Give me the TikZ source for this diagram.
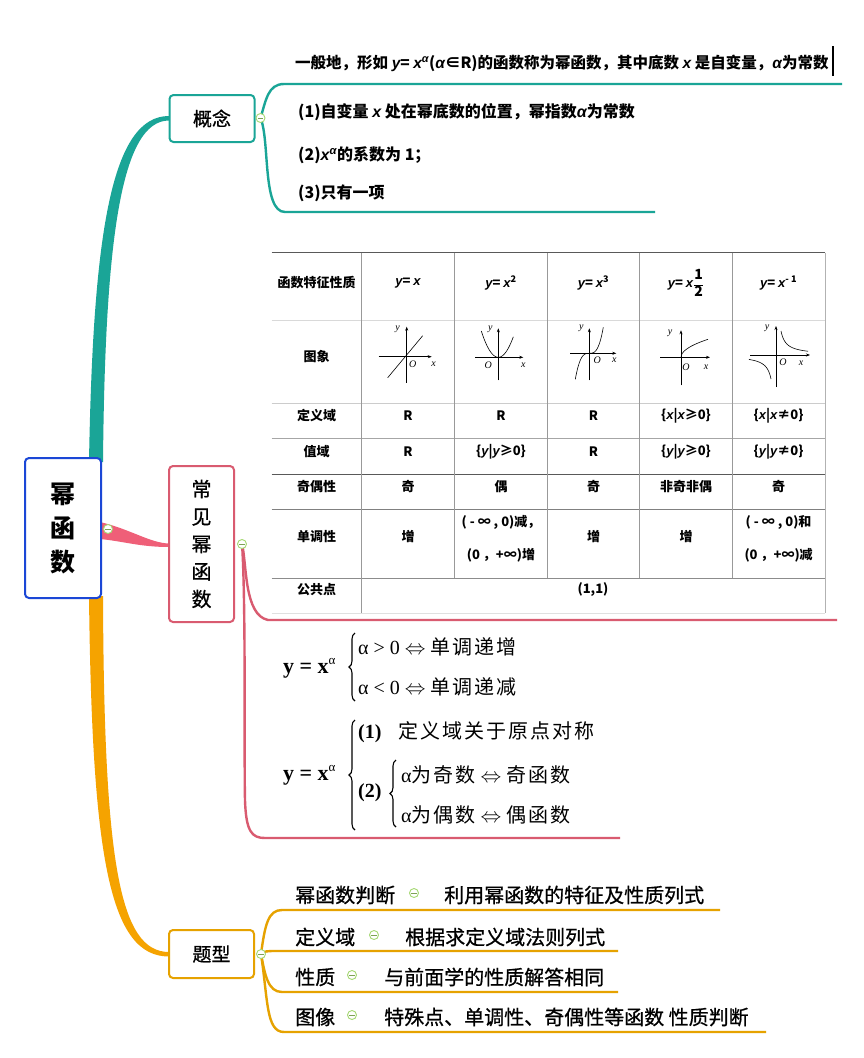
\documentclass[tikz,border=0pt]{standalone}
\usepackage{fontspec}
\setmainfont{Noto Sans CJK SC}
\newfontfamily\lsans{Liberation Sans}
\newfontfamily\tms{Liberation Serif}
\newfontfamily\cjkw{Noto Sans CJK SC}[LetterSpace=10]
\newfontfamily\cjkm{Noto Sans CJK SC}[FakeBold=0.8]
\usetikzlibrary{arrows.meta,decorations.pathreplacing}
\definecolor{teal1}{HTML}{1AA597}
\definecolor{pink1}{HTML}{D95B70}
\definecolor{pinkf}{HTML}{EF5F78}
\definecolor{orn}{HTML}{E6A200}
\definecolor{ornf}{HTML}{F5A300}
\definecolor{blu}{HTML}{1B47D6}
\definecolor{cgreen}{HTML}{A5D872}
\newcommand\ivb[1]{{\lsans\bfseries\itshape #1}}
\newcommand\fs[1]{\fontsize{#1}{#1}\selectfont}
\newcommand\fml{\tms\fs{20}}
\newcommand\cw{\cjkw\fs{20}}
\pgfdeclarelayer{back}
\pgfdeclarelayer{bg}
\pgfsetlayers{back,bg,main}
\tikzset{
  topic/.style={draw, line width=2pt, rounded corners=4pt, fill=white, inner sep=0pt, text=black},
  col/.style={circle, draw=cgreen, fill=white, line width=0.9pt, minimum size=9pt, inner sep=0pt,
    path picture={\draw[cgreen!75!black, line width=1pt] ([xshift=-2.6pt]path picture bounding box.center) -- ([xshift=2.6pt]path picture bounding box.center);}},
  tealln/.style={draw=teal1, line width=2.4pt},
  pinkln/.style={draw=pink1, line width=2.4pt},
  ornln/.style={draw=orn, line width=2.4pt},
  cell/.style={font={\bfseries\fs{13}}, inner sep=0pt},
  txt/.style={anchor=west, inner sep=0pt},
  qt/.style={anchor=west, inner sep=0pt, font={\cjkm\fs{20}}},
  ax/.style={line width=0.6pt, -{Stealth[length=4pt,width=3pt]}},
  crv/.style={line width=0.6pt},
  glab/.style={font={\tms\itshape\fs{10}}, inner sep=0pt},
  cbrace/.style={line width=1.1pt, decorate, decoration={brace, amplitude=6pt}},
}
\begin{document}
\begin{tikzpicture}[x=1pt,y=-1pt]
\useasboundingbox (0,0) rectangle (864,1058);
\begin{pgfonlayer}{back}
\fill[white] (0,0) rectangle (864,1058);
\end{pgfonlayer}

% ---------- main topics ----------
\node[topic, draw=blu, minimum width=76pt, minimum height=140pt, align=center,
  font={\bfseries\fontsize{25}{34}\selectfont}] (root) at (63,528) {幂\\函\\数};
\node[topic, draw=teal1, minimum width=85pt, minimum height=47pt, font={\cjkm\fs{19}}] (gn) at (212,118.5) {概念};
\node[topic, draw=pink1, minimum width=65pt, minimum height=156pt, align=center,
  font={\cjkm\fontsize{20}{27.5}\selectfont}] (cj) at (201.5,544) {常\\见\\幂\\函\\数};
\node[topic, draw=orn, minimum width=85pt, minimum height=48pt, font={\cjkm\fs{19}}] (tx) at (211.5,954) {题型};

% collapse markers
\node[col] (c0) at (108,529) {};
\node[col] (c1) at (260.5,118) {};
\node[col] (c2) at (242,544) {};
\node[col] (c3) at (261,954) {};

% ---------- main branches ----------
\begin{pgfonlayer}{bg}
\fill[teal1] (89,462) .. controls (93,230) and (112,116) .. (169,116) -- (169,120.5)
   .. controls (121,120.5) and (105,240) .. (103,462) -- cycle;
\fill[ornf] (89,596) .. controls (92,860) and (110,956.5) .. (169,956.5) -- (169,952)
   .. controls (119,952) and (104,860) .. (103,596) -- cycle;
\fill[pinkf] (100,522) .. controls (130,529) and (150,543) .. (169,543.5) -- (169,547)
   .. controls (140,547) and (122,541) .. (100,539) -- cycle;

\coordinate (k1) at (842,84);
\coordinate (k2) at (655,212);
\draw[tealln] (c1.center) .. controls (266,100) and (268,84) .. (284,84) -- (k1);
\draw[tealln] (c1.center) .. controls (270,140) and (262,212) .. (285,212) -- (k2);

\coordinate (p1) at (837,620);
\coordinate (p2) at (620,838);
\draw[pinkln] (c2.center) .. controls (247,565) and (244,615) .. (268,620) -- (p1);
\draw[pinkln] (c2.center) .. controls (246,600) and (244,760) .. (245,800)
   .. controls (246,832) and (252,838) .. (265,838) -- (p2);

\coordinate (o1) at (720,910);
\coordinate (o2) at (618,951);
\coordinate (o3) at (618,992);
\coordinate (o4) at (766,1032);
\draw[ornln] (c3.center) .. controls (265,925) and (268,910) .. (282,910) -- (o1);
\draw[ornln] (c3.center) .. controls (264,951) and (268,951) .. (276,951) -- (o2);
\draw[ornln] (c3.center) .. controls (265,975) and (268,992) .. (282,992) -- (o3);
\draw[ornln] (c3.center) .. controls (268,1000) and (266,1032) .. (284,1032) -- (o4);
\end{pgfonlayer}

% ---------- concept texts ----------
\node[txt, font={\bfseries\fs{15.5}}] (g1) at (295,63)
  {一般地，形如 \ivb{y}= \ivb{x}\textsuperscript{\ivb{α}}(\ivb{α}∈R)的函数称为幂函数，其中底数 \ivb{x} 是自变量，\ivb{α}为常数};
\draw[line width=1.3pt] (833,46) -- (833,76);
\node[txt, font={\bfseries\fs{16}}] (g2) at (298,112) {(1)自变量 \ivb{x} 处在幂底数的位置，幂指数\ivb{α}为常数};
\node[txt, font={\bfseries\fs{16}}] (g3) at (298,155) {(2)\ivb{x}\textsuperscript{\ivb{α}}的系数为 1；};
\node[txt, font={\bfseries\fs{16}}] (g4) at (298,193) {(3)只有一项};

% ---------- table ----------
\foreach \yy/\cc in {252.7/black!65, 320/black!15, 403/black!20, 438/black!35, 474/black!65, 509/black!50, 578/black!45, 613/black!12}
  \draw[draw=\cc, line width=0.8pt] (271.7,\yy) -- (825,\yy);
\draw[black!40, line width=0.8pt] (361.7,252.7) -- (361.7,613);
\foreach \xx in {454.3,547.7,639.3,732.3}
  \draw[black!40, line width=0.8pt] (\xx,252.7) -- (\xx,578);
\draw[black!30, line width=0.8pt] (825,252.7) -- (825,613);

\node[cell] (h0) at (316.7,283) {函数特征性质};
\node[cell] (h1) at (408,283) {\ivb{y}= \ivb{x}};
\node[cell] (h2) at (501,283) {\ivb{y}= \ivb{x}\textsuperscript{2}};
\node[cell] (h3) at (593.5,283) {\ivb{y}= \ivb{x}\textsuperscript{3}};
\node[cell] (h4) at (686,283) {\ivb{y}= \ivb{x}$\displaystyle{\mbox{\bfseries\fs{14}1}\over\mbox{\bfseries\fs{14}2}}$};
\node[cell] (h5) at (778.6,283) {\ivb{y}= \ivb{x}\textsuperscript{- 1}};

\node[cell] (i0) at (316.7,357) {图象};
% graph 1
\begin{scope}[shift={(406.7,356.7)}]
  \draw[ax] (0,26) -- (0,-30);
  \draw[ax] (-28,0) -- (25,0);
  \draw[crv] (-19,21) -- (16,-21);
  \node[glab] (g1y) at (-9,-27) {y};
  \node[glab] (g1o) at (6,8) {O};
  \node[glab] (g1x) at (27,7) {x};
\end{scope}
% graph 2
\begin{scope}[shift={(498.3,357.3)}]
  \draw[ax] (0,23) -- (0,-29);
  \draw[ax] (-23,0) -- (25,0);
  \draw[crv, domain=-17:15, samples=40] plot (\x, {-(\x*\x)/11});
  \node[glab] (g2y) at (-8,-28) {y};
  \node[glab] (g2o) at (-10,8) {O};
  \node[glab] (g2x) at (25,8) {x};
\end{scope}
% graph 3
\begin{scope}[shift={(589.3,353.3)}]
  \draw[ax] (0,27) -- (0,-25);
  \draw[ax] (-19,0) -- (27,0);
  \draw[crv, domain=-14:14, samples=40] plot (\x, {-26*(\x/14)*(\x/14)*(\x/14)});
  \node[glab] (g3y) at (-8,-25) {y};
  \node[glab] (g3o) at (8,7) {O};
  \node[glab] (g3x) at (25,7) {x};
\end{scope}
% graph 4
\begin{scope}[shift={(681,357.3)}]
  \draw[ax] (0,28) -- (0,-27);
  \draw[ax] (-21,0) -- (29,0);
  \draw[crv, domain=0:27, samples=60] plot (\x, {-18*sqrt(\x/27)});
  \node[glab] (g4y) at (-11,-24) {y};
  \node[glab] (g4o) at (5,10) {O};
  \node[glab] (g4x) at (25,10) {x};
\end{scope}
% graph 5
\begin{scope}[shift={(776,355)}]
  \draw[ax] (0,32) -- (0,-29);
  \draw[ax] (-26,0) -- (34,0);
  \draw[crv, domain=5:32, samples=40] plot (\x, {-120/\x});
  \draw[crv, domain=-27:-5, samples=40] plot (\x, {-120/\x});
  \node[glab] (g5y) at (-9,-27) {y};
  \node[glab] (g5o) at (7,7) {O};
  \node[glab] (g5x) at (25,8) {x};
\end{scope}

\node[cell] (d0) at (316.7,416) {定义域};
\node[cell] (d1) at (408,416) {R};
\node[cell] (d2) at (501,416) {R};
\node[cell] (d3) at (593.5,416) {R};
\node[cell] (d4) at (686,416) {\{\ivb{x}|\ivb{x}≥0\}};
\node[cell] (d5) at (778.6,416) {\{\ivb{x}|\ivb{x}≠0\}};

\node[cell] (v0) at (316.7,452) {值域};
\node[cell] (v1) at (408,452) {R};
\node[cell] (v2) at (501,452) {\{\ivb{y}|\ivb{y}≥0\}};
\node[cell] (v3) at (593.5,452) {R};
\node[cell] (v4) at (686,452) {\{\ivb{y}|\ivb{y}≥0\}};
\node[cell] (v5) at (778.6,452) {\{\ivb{y}|\ivb{y}≠0\}};

\node[cell] (j0) at (316.7,487) {奇偶性};
\node[cell] (j1) at (408,487) {奇};
\node[cell] (j2) at (501,487) {偶};
\node[cell] (j3) at (593.5,487) {奇};
\node[cell] (j4) at (686,487) {非奇非偶};
\node[cell] (j5) at (778.6,487) {奇};

\node[cell] (m0) at (316.7,537) {单调性};
\node[cell] (m1) at (408,537) {增};
\node[cell] (m2a) at (501,522) {( - ∞ , 0)减，};
\node[cell] (m2b) at (501,555) {(0 ，+∞)增};
\node[cell] (m3) at (593.5,537) {增};
\node[cell] (m4) at (686,537) {增};
\node[cell] (m5a) at (778.6,522) {( - ∞ , 0)和};
\node[cell] (m5b) at (778.6,555) {(0 ，+∞)减};

\node[cell] (q0) at (316.7,590) {公共点};
\node[cell] (q1) at (593,590) {(1,1)};

% ---------- formulas ----------
\node[txt] (f1) at (283,668) {\tms\bfseries\fs{22}y = x\raisebox{9pt}{\mdseries\fs{13}α}};
\draw[cbrace] (355,701) -- (355,633);
\node[txt] (f1a) at (358,647) {\fml α > 0 $\Leftrightarrow$ {\cw 单调递增}};
\node[txt] (f1b) at (358,687) {\fml α < 0 $\Leftrightarrow$ {\cw 单调递减}};

\node[txt] (f2) at (283,775) {\tms\bfseries\fs{22}y = x\raisebox{9pt}{\mdseries\fs{13}α}};
\draw[cbrace] (355,830) -- (355,720);
\node[txt] (f2a) at (358,732) {\fml\bfseries (1)\hspace{17pt}{\mdseries\cw 定义域关于原点对称}};
\node[txt] (f2b) at (358,793) {\fml\bfseries (2)};
\draw[cbrace] (396,827) -- (396,760);
\node[txt] (f2c) at (401,775) {\fml α{\cw 为奇数} $\Leftrightarrow$ {\cw 奇函数}};
\node[txt] (f2d) at (401,815) {\fml α{\cw 为偶数} $\Leftrightarrow$ {\cw 偶函数}};

% ---------- question types ----------
\node[qt] (t1) at (295,895) {幂函数判断};
\node[col] (e1) at (414,893) {};
\node[qt] (t1b) at (444,895) {利用幂函数的特征及性质列式};
\node[qt] (t2) at (295,937) {定义域};
\node[col] (e2) at (374,935) {};
\node[qt] (t2b) at (405,937) {根据求定义域法则列式};
\node[qt] (t3) at (295,977) {性质};
\node[col] (e3) at (352,975) {};
\node[qt] (t3b) at (384,977) {与前面学的性质解答相同};
\node[qt] (t4) at (295,1017) {图像};
\node[col] (e4) at (352,1015) {};
\node[qt] (t4b) at (384,1017) {特殊点、单调性、奇偶性等函数 性质判断};
\end{tikzpicture}
\end{document}
